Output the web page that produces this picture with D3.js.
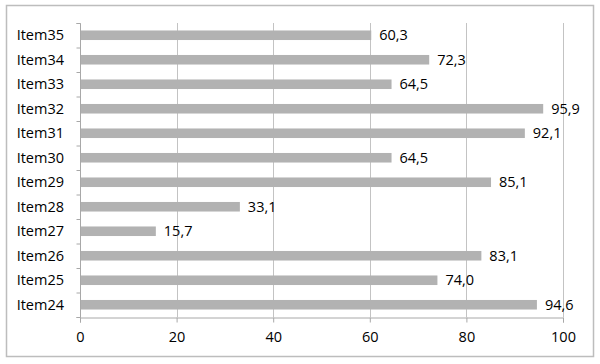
<!DOCTYPE html>
<html>
<head>
<style>
body { margin: 0; background: #fff; }
text { font-family: "Open Sans", "Noto Sans", sans-serif; font-size: 14.5px; fill: #000; }
</style>
</head>
<body>
<svg id="chart" width="600" height="364"></svg>
<script src="https://d3js.org/d3.v7.min.js"></script>
<script>
    // top to bottom
    var items = ["Item35", "Item34", "Item33", "Item32", "Item31", "Item30", "Item29", "Item28", "Item27", "Item26", "Item25", "Item24"];
    var values = [60.3, 72.3, 64.5, 95.9, 92.1, 64.5, 85.1, 33.1, 15.7, 83.1, 74.0, 94.6];
    var x_ticks = [0, 20, 40, 60, 80, 100];

    const svg = d3.select("#chart");
    const plot_left = 80, plot_right = 563, plot_top = 23, plot_bottom = 317;
    const grid_color = "#c3c3c3";

    var x = d3.scaleLinear().domain([0, 100]).range([plot_left, plot_right]);
    var y = d3.scaleBand().domain(items).range([plot_top, plot_bottom]).paddingInner(0.61).paddingOuter(0.305);

    // outer frame
    svg.append("rect")
        .attr("x", 6.5).attr("y", 5.5)
        .attr("width", 587).attr("height", 351)
        .style("fill", "#fff")
        .style("stroke", "#bdbdbd")
        .style("stroke-width", 1.5);

    // vertical gridlines
    svg.selectAll("line.grid")
        .data(x_ticks.slice(1))
        .enter()
        .append("line")
        .attr("x1", d => Math.round(x(d)) + 0.5)
        .attr("x2", d => Math.round(x(d)) + 0.5)
        .attr("y1", plot_top)
        .attr("y2", plot_bottom)
        .style("stroke", grid_color);

    // bars
    svg.selectAll("rect.bar")
        .data(values)
        .enter()
        .append("rect")
        .attr("x", x(0))
        .attr("y", (d, i) => y(items[i]))
        .attr("width", d => x(d) - x(0))
        .attr("height", y.bandwidth())
        .style("fill", "#b2b2b2");

    // value labels
    svg.selectAll("text.value")
        .data(values)
        .enter()
        .append("text")
        .attr("x", d => x(d) + 8)
        .attr("y", (d, i) => y(items[i]) + y.bandwidth() / 2)
        .attr("dy", "0.36em")
        .text(d => d.toFixed(1).replace(".", ","));

    // y axis
    var yAxis = d3.axisLeft(d3.scaleLinear().domain([0, items.length]).range([plot_bottom, plot_top]))
        .ticks(items.length)
        .tickSize(4)
        .tickFormat("");
    var gy = svg.append("g").attr("transform", "translate(" + (plot_left + 0.5) + ",0)").call(yAxis);
    gy.selectAll("path, line").style("stroke", "#a8a8a8");
    gy.select("path").attr("d", "M-4," + (plot_top + 0.5) + "H0V" + (plot_bottom + 0.5) + "H-4");

    svg.selectAll("text.item")
        .data(items)
        .enter()
        .append("text")
        .attr("x", 64)
        .attr("y", d => y(d) + y.bandwidth() / 2)
        .attr("dy", "0.36em")
        .attr("text-anchor", "end")
        .text(d => d);

    // x axis
    var xAxis = d3.axisBottom(x).tickValues(x_ticks).tickSize(5).tickPadding(9).tickSizeOuter(5);
    var gx = svg.append("g").attr("transform", "translate(0," + (plot_bottom + 0.5) + ")").call(xAxis);
    gx.selectAll("path, line").style("stroke", "#a8a8a8");
    gx.selectAll("text").style("font-size", "14.5px").style("font-family", "\"Open Sans\", sans-serif");
</script>
</body>
</html>
